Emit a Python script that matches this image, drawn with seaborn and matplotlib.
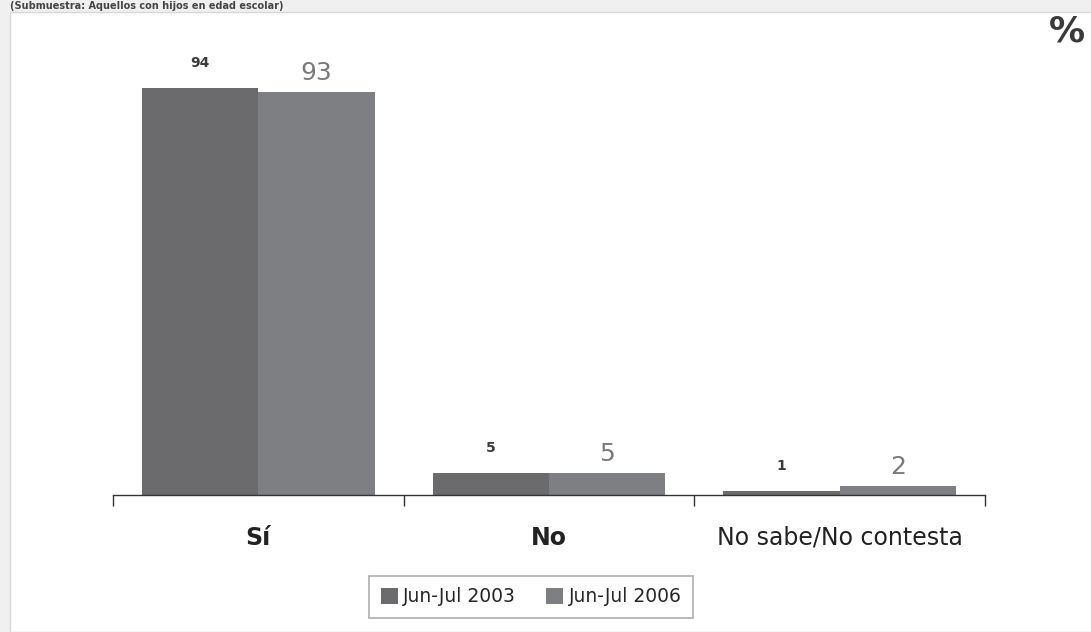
import numpy as np
import pandas as pd
import matplotlib
matplotlib.use("Agg")
import matplotlib.pyplot as plt
from matplotlib.patches import Rectangle
import seaborn as sns

# datos
categorias = ["Sí", "No", "No sabe/No contesta"]
periodos = ["Jun-Jul 2003", "Jun-Jul 2006"]
valores_2003 = [94, 5, 1]
valores_2006 = [93, 5, 2]

df = pd.DataFrame({
    "categoria": categorias * 2,
    "periodo": [periodos[0]] * 3 + [periodos[1]] * 3,
    "valor": valores_2003 + valores_2006,
})

colores = ["#6b6b6d", "#7e7f83"]

sns.set_theme(style="white")
plt.rcParams["font.family"] = ["DejaVu Sans"]

fig = plt.figure(figsize=(10.91, 6.32), dpi=100)
fig.patch.set_facecolor("#f0f0f0")
# panel blanco
fondo = Rectangle((10 / 1091, 0), 1, 1 - 12 / 632, transform=fig.transFigure,
                  facecolor="white", edgecolor="#d8d8d8", lw=1, zorder=-10)
fig.add_artist(fondo)
fig.text(10 / 1091, 1 - 1 / 632, "(Submuestra: Aquellos con hijos en edad escolar)", fontsize=7,
         fontweight="bold", color="#444444", va="top", ha="left")

ax = fig.add_axes([113 / 1091, 1 - 495 / 632, 872 / 1091, 433 / 632])
ax.patch.set_alpha(0)
sns.barplot(data=df, x="categoria", y="valor", hue="periodo", palette=colores,
            width=0.8, saturation=1, linewidth=0, ax=ax, legend=True)

ax.set_ylim(0, 100)
ax.set_xlim(-0.5, 2.5)

# etiquetas de valores
for cont, offset, estilo in zip(ax.containers, [13, 5], [
        dict(fontsize=10, fontweight="bold", color="#3a3a3a"),
        dict(fontsize=18, color="#7a7a7a")]):
    for bar in cont:
        h = bar.get_height()
        ax.annotate(f"{int(h)}", (bar.get_x() + bar.get_width() / 2, h),
                    xytext=(0, offset), textcoords="offset points",
                    ha="center", va="bottom", clip_on=False, **estilo)

for s in ["top", "left", "right"]:
    ax.spines[s].set_visible(False)
ax.spines["bottom"].set_color("#333333")
ax.spines["bottom"].set_linewidth(1)
ax.set_yticks([])
ax.set_xlabel("")
ax.set_ylabel("")

ax.set_xticks([0, 1, 2])
ax.set_xticklabels(categorias)
ax.set_xticks([-0.5, 0.5, 1.5, 2.5], minor=True)
ax.tick_params(axis="x", which="major", length=0, pad=22, labelsize=17, labelcolor="#222222")
ax.tick_params(axis="x", which="minor", length=8, width=1, color="#333333", bottom=True, direction="out")
for lbl in ax.get_xticklabels()[:2]:
    lbl.set_fontweight("bold")

leg = ax.legend(loc="center", bbox_to_anchor=(531 / 1091, 1 - 597 / 632),
                bbox_transform=fig.transFigure, ncol=2, frameon=True, fancybox=False,
                fontsize=13.5, handlelength=0.9, handleheight=0.9, handletextpad=0.3,
                columnspacing=1.6, borderpad=0.6)
leg.get_frame().set_edgecolor("#999999")
leg.get_frame().set_linewidth(1.2)

fig.text(1085 / 1091, 1 - 32 / 632, "%", fontsize=26, fontweight="bold",
         color="#3a3a3a", ha="right", va="center")

fig.savefig("out.png", dpi=100)
